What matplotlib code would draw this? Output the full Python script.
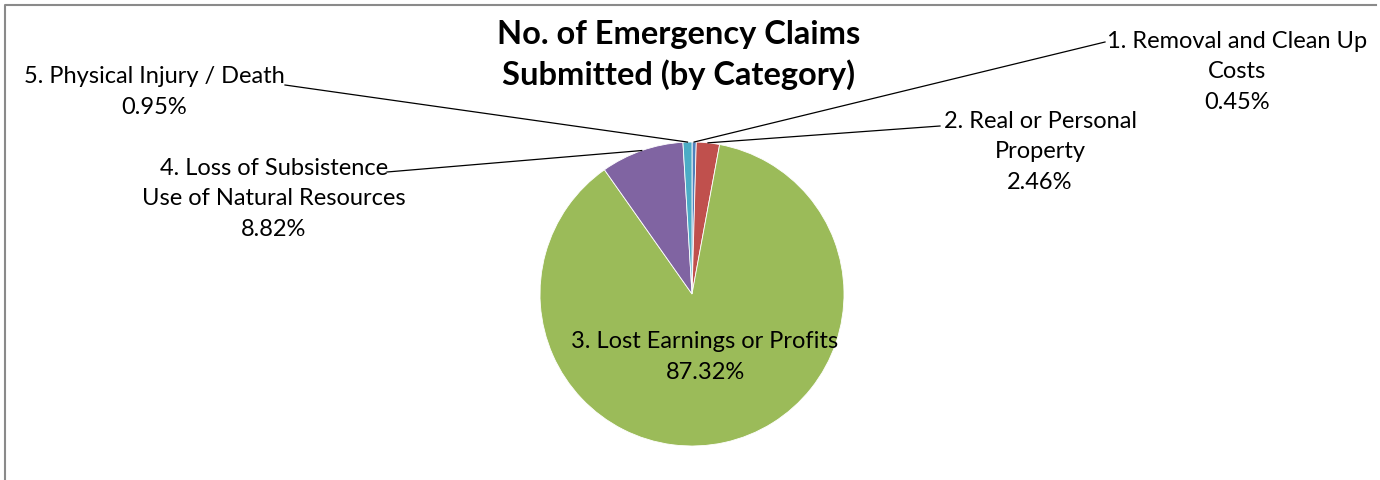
import numpy as np
import matplotlib.pyplot as plt

plt.rcParams['font.family'] = ['Lato', 'DejaVu Sans']

categories = [
    "1. Removal and Clean Up\nCosts",
    "2. Real or Personal\nProperty",
    "3. Lost Earnings or Profits",
    "4. Loss of Subsistence\nUse of Natural Resources",
    "5. Physical Injury / Death",
]
shares = [0.45, 2.46, 87.32, 8.82, 0.95]
colors = ["#4F81BD", "#C0504D", "#9BBB59", "#8064A2", "#4BACC6"]

# layout in pixel coords (y down)
cx, cy, r = 692, 295, 152
label_pos = [(1237, 72), (1040, 152), (705, 357), (274, 199), (154, 92)]
line_start = [(1105, 43), (940, 127), None, (387, 173), (285, 86)]

fig = plt.figure(figsize=(13.8, 4.81), dpi=100)
ax = fig.add_axes([0, 0, 1, 1])

ax.pie(shares, colors=colors, startangle=-90, counterclock=True,
       center=(cx, cy), radius=r,
       wedgeprops=dict(edgecolor="white", linewidth=0.6))
ax.set_xlim(0, 1380)
ax.set_ylim(481, 0)
ax.axis("off")

total = sum(shares)
cum = np.cumsum([0] + shares)
for i, name in enumerate(categories):
    mid = np.radians(-90 + (cum[i] + shares[i] / 2) / total * 360)
    ex, ey = cx + r * np.cos(mid), cy + r * np.sin(mid)
    if line_start[i] is not None:
        sx, sy = line_start[i]
        ax.plot([sx, ex], [sy, ey], color="black", lw=0.9, zorder=1)
    tx, ty = label_pos[i]
    ax.text(tx, ty, f"{name}\n{shares[i]:.2f}%", ha="center", va="center",
            fontsize=17, linespacing=1.56, color="black")

ax.text(679, 55, "No. of Emergency Claims\nSubmitted (by Category)",
        ha="center", va="center", fontsize=23.5, fontweight="bold",
        linespacing=1.4)

# chart frame (left and top only are visible)
ax.plot([4.5, 4.5, 1376], [481, 6, 6], color="#8a8a8a", lw=1.5, zorder=0)

fig.savefig("out.png", dpi=100)
